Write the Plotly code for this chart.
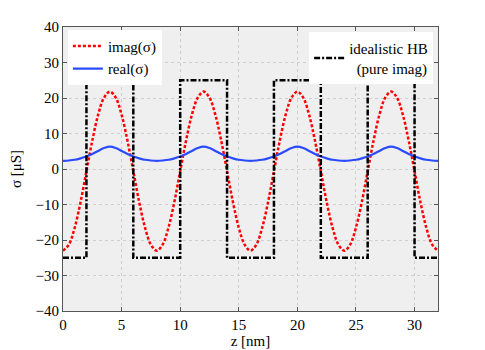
import plotly.graph_objects as go

# z positions (nm), sampled every 0.5 nm
z = [i * 0.5 for i in range(65)]

# imag(sigma) [uS]
imag_sigma = [
    -23.0, -21.3, -16.5, -9.3, -0.6, 8.0, 15.3, 20.1, 21.8, 20.1, 15.3, 8.0, -0.6, -9.3, -16.5, -21.3,
    -23.0, -21.3, -16.5, -9.3, -0.6, 8.0, 15.3, 20.1, 21.8, 20.1, 15.3, 8.0, -0.6, -9.3, -16.5, -21.3,
    -23.0, -21.3, -16.5, -9.3, -0.6, 8.0, 15.3, 20.1, 21.8, 20.1, 15.3, 8.0, -0.6, -9.3, -16.5, -21.3,
    -23.0, -21.3, -16.5, -9.3, -0.6, 8.0, 15.3, 20.1, 21.8, 20.1, 15.3, 8.0, -0.6, -9.3, -16.5, -21.3,
    -23.0,
]

# real(sigma) [uS]
real_sigma = [
    2.3, 2.4, 2.6, 3.0, 3.5, 4.2, 5.1, 5.9, 6.3, 5.9, 5.1, 4.2, 3.5, 3.0, 2.6, 2.4,
    2.3, 2.4, 2.6, 3.0, 3.5, 4.2, 5.1, 5.9, 6.3, 5.9, 5.1, 4.2, 3.5, 3.0, 2.6, 2.4,
    2.3, 2.4, 2.6, 3.0, 3.5, 4.2, 5.1, 5.9, 6.3, 5.9, 5.1, 4.2, 3.5, 3.0, 2.6, 2.4,
    2.3, 2.4, 2.6, 3.0, 3.5, 4.2, 5.1, 5.9, 6.3, 5.9, 5.1, 4.2, 3.5, 3.0, 2.6, 2.4,
    2.3,
]

# idealistic HB (pure imag) square wave
hb_z = [0, 2, 2, 6, 6, 10, 10, 14, 14, 18, 18, 22, 22, 26, 26, 30, 30, 32]
hb_val = [-25, -25, 25, 25, -25, -25, 25, 25, -25, -25, 25, 25, -25, -25, 25, 25, -25, -25]

x_ticks = [0, 5, 10, 15, 20, 25, 30]
y_ticks = [-40, -30, -20, -10, 0, 10, 20, 30, 40]

FONT = "Liberation Serif"

fig = go.Figure()
fig.add_trace(go.Scatter(
    x=z, y=imag_sigma, mode="lines", name="imag(σ)",
    line=dict(color="#ff0000", width=2.5, dash="3px,2px", shape="spline"),
    legend="legend",
))
fig.add_trace(go.Scatter(
    x=z, y=real_sigma, mode="lines", name="real(σ)",
    line=dict(color="#2a4bff", width=2.2, shape="spline"),
    legend="legend",
))
fig.add_trace(go.Scatter(
    x=hb_z, y=hb_val, mode="lines", name="idealistic HB<br>\u00a0\u00a0(pure imag)",
    line=dict(color="#000000", width=2.5, dash="6px,2px,2px,2px"),
    legend="legend2",
))

axis_common = dict(
    showline=True, linecolor="#555555", linewidth=1, mirror="ticks",
    ticks="inside", ticklen=4, tickcolor="#555555",
    showgrid=True, gridcolor="#cfcfcf", griddash="dot", gridwidth=1,
    zeroline=False, automargin=False,
    tickfont=dict(family=FONT, size=15, color="#000000"),
)

fig.update_layout(
    width=477, height=342,
    margin=dict(l=55, r=47, t=19, b=39),
    paper_bgcolor="white",
    plot_bgcolor="#efefef",
    font=dict(family=FONT, size=15, color="#000000"),
    xaxis=dict(range=[0, 32], tickvals=x_ticks,
               title=dict(text="z [nm]", standoff=0, font=dict(family=FONT, size=15)),
               **axis_common),
    yaxis=dict(range=[-40, 40], tickvals=y_ticks,
               title=dict(text="σ [μS]", standoff=10, font=dict(family=FONT, size=15)),
               **axis_common),
    legend=dict(x=0.013, y=0.99, xanchor="left", yanchor="top",
                bgcolor="white", borderwidth=0, itemwidth=30,
                tracegroupgap=0, font=dict(family=FONT, size=15)),
    legend2=dict(x=0.987, y=0.982, xanchor="right", yanchor="top",
                 bgcolor="white", borderwidth=0, itemwidth=30,
                 font=dict(family=FONT, size=15)),
    showlegend=True,
)

fig.write_html("out.html")
